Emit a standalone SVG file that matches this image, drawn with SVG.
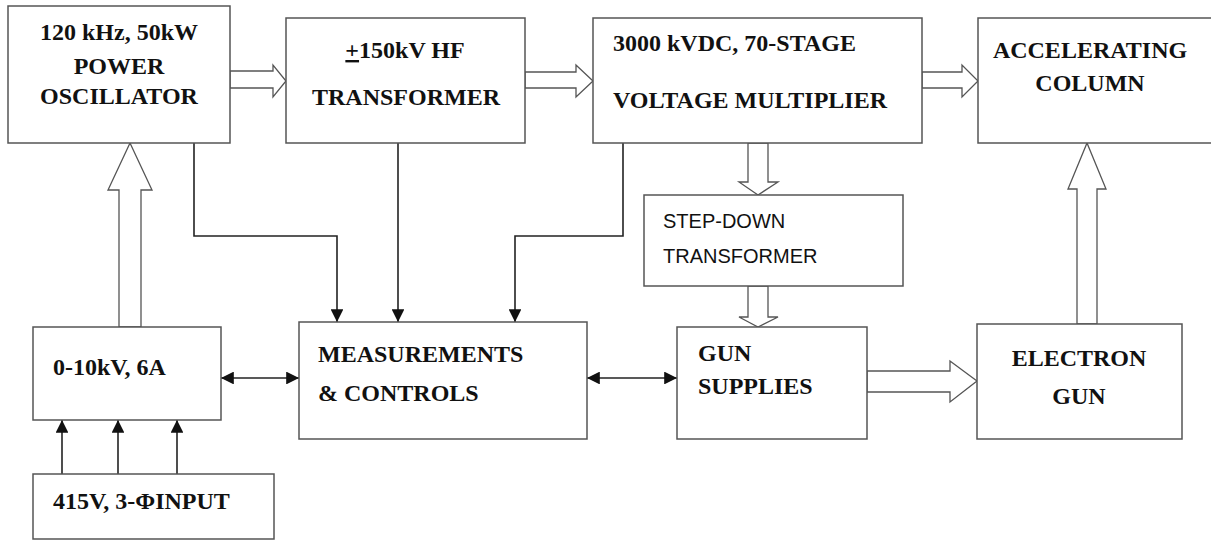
<svg xmlns="http://www.w3.org/2000/svg" width="1211" height="541" viewBox="0 0 1211 541">
<defs>
<style>
.box{fill:#fff;stroke:#555;stroke-width:1.5}
.t{font-family:"Liberation Serif","Times New Roman",serif;font-weight:bold;font-size:24px;fill:#111}
.s{font-family:"Liberation Sans",Arial,sans-serif;font-size:20px;fill:#111}
.c{text-anchor:middle}
.hol{fill:#fff;stroke:#555;stroke-width:1.3;stroke-linejoin:miter}
.ln{fill:none;stroke:#222;stroke-width:1.6}
</style>
<marker id="ah" viewBox="0 0 10 10" refX="10" refY="5" markerWidth="8" markerHeight="8" markerUnits="userSpaceOnUse" orient="auto-start-reverse">
<path d="M0,0 L10,5 L0,10 Z" fill="#111"/>
</marker>
<marker id="ah2" viewBox="0 0 10 10" refX="10" refY="5" markerWidth="8" markerHeight="8" orient="auto-start-reverse">
<path d="M0,0 L10,5 L0,10 Z" fill="#111"/>
</marker>
</defs>
<rect width="1211" height="541" fill="#fff"/>

<g id="connectors">
<!-- hollow arrows -->
<path class="hol" d="M230,71 H273 V65 L286,81 L273,97 V88 H230 Z"/>
<path class="hol" d="M525,72 H576 V65 L593,81 L576,97 V88 H525 Z"/>
<path class="hol" d="M922,72 H962 V65 L978,81 L962,97 V88 H922 Z"/>
<path class="hol" d="M748,143 V182 H739 L758,195 L778,182 H768 V143 Z"/>
<path class="hol" d="M748,286 V317 H739 L758,327 L778,317 H768 V286 Z"/>
<path class="hol" d="M867,371 H950 V361 L977,381 L950,402 V392 H867 Z"/>
<path class="hol" d="M1077,324 V189 H1068 L1087,143 L1106,189 H1097 V324 Z"/>
<path class="hol" d="M119,327 V190 H108 L130,143 L152,190 H141 V327 Z"/>
<!-- thin connectors -->
<path class="ln" d="M194,143 V236 H337 V322" marker-end="url(#ah2)"/>
<path class="ln" d="M398,143 V322" marker-end="url(#ah2)"/>
<path class="ln" d="M623,143 V236 H515 V322" marker-end="url(#ah2)"/>
<path class="ln" d="M62,474 V420" marker-end="url(#ah2)"/>
<path class="ln" d="M118,474 V420" marker-end="url(#ah2)"/>
<path class="ln" d="M177,474 V420" marker-end="url(#ah2)"/>
<path class="ln" d="M221,378 H299" marker-start="url(#ah2)" marker-end="url(#ah2)"/>
<path class="ln" d="M587,378 H677" marker-start="url(#ah2)" marker-end="url(#ah2)"/>
</g>

<g id="power-oscillator">
<rect class="box" x="8" y="6" width="222" height="137"/>
<text class="t c" x="119" y="40">120 kHz, 50kW</text>
<text class="t c" x="119" y="74">POWER</text>
<text class="t c" x="119" y="104">OSCILLATOR</text>
</g>

<g id="hf-transformer">
<rect class="box" x="286" y="18" width="239" height="125"/>
<text class="t c" x="405" y="58"><tspan text-decoration="underline">+</tspan>150kV HF</text>
<text class="t c" x="406" y="105">TRANSFORMER</text>
</g>

<g id="voltage-multiplier">
<rect class="box" x="593" y="18" width="329" height="125"/>
<text class="t" x="613" y="51">3000 kVDC, 70-STAGE</text>
<text class="t" x="613" y="108">VOLTAGE MULTIPLIER</text>
</g>

<g id="accelerating-column">
<rect class="box" x="978" y="18" width="240" height="125"/>
<text class="t c" x="1090" y="58">ACCELERATING</text>
<text class="t c" x="1090" y="91">COLUMN</text>
</g>

<g id="step-down-transformer">
<rect class="box" x="644" y="195" width="259" height="91"/>
<text class="s" x="663" y="228">STEP-DOWN</text>
<text class="s" x="663" y="263">TRANSFORMER</text>
</g>

<g id="hv-supply">
<rect class="box" x="33" y="327" width="188" height="93"/>
<text class="t" x="53" y="375">0-10kV, 6A</text>
</g>

<g id="input">
<rect class="box" x="33" y="474" width="241" height="65"/>
<text class="t" x="53" y="509">415V, 3-ΦINPUT</text>
</g>

<g id="measurements-controls">
<rect class="box" x="299" y="322" width="288" height="117"/>
<text class="t" x="318" y="362">MEASUREMENTS</text>
<text class="t" x="318" y="401">&amp; CONTROLS</text>
</g>

<g id="gun-supplies">
<rect class="box" x="677" y="327" width="190" height="112"/>
<text class="t" x="698" y="361">GUN</text>
<text class="t" x="698" y="394">SUPPLIES</text>
</g>

<g id="electron-gun">
<rect class="box" x="977" y="324" width="205" height="115"/>
<text class="t c" x="1079" y="366">ELECTRON</text>
<text class="t c" x="1079" y="404">GUN</text>
</g>
</svg>
